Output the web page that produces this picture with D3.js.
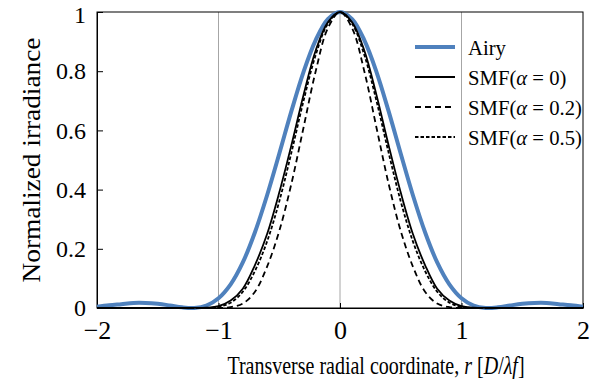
<!DOCTYPE html>
<html>
<head>
<meta charset="utf-8">
<script src="https://cdn.jsdelivr.net/npm/d3@7"></script>
<style>
  body { margin: 0; background: #fff; }
  text { font-family: "Liberation Serif", "Times New Roman", serif; fill: #000; }
</style>
</head>
<body>
<div id="chart"></div>
<script>
chart_width = 595;
chart_height = 388;

// radial coordinate samples
r_values = [-2.0, -1.9, -1.8, -1.7, -1.6, -1.5, -1.4, -1.3, -1.2, -1.1, -1.0, -0.9, -0.8, -0.7, -0.6, -0.5, -0.4, -0.3, -0.2, -0.1,
	0.0, 0.1, 0.2, 0.3, 0.4, 0.5, 0.6, 0.7, 0.8, 0.9, 1.0, 1.1, 1.2, 1.3, 1.4, 1.5, 1.6, 1.7, 1.8, 1.9, 2.0];

airy = [0.004, 0.009, 0.013, 0.017, 0.017, 0.014, 0.0085, 0.0023, 0.0002, 0.008, 0.033, 0.080, 0.154, 0.256, 0.381, 0.521, 0.665, 0.798, 0.905, 0.976,
	1.0, 0.976, 0.905, 0.798, 0.665, 0.521, 0.381, 0.256, 0.154, 0.080, 0.033, 0.008, 0.0002, 0.0023, 0.0085, 0.014, 0.017, 0.017, 0.013, 0.009, 0.004];

smf_a0 = [0, 0, 0, 0, 0, 0, 0, 0, 0.0002, 0.001, 0.006, 0.025, 0.065, 0.145, 0.25, 0.39, 0.55, 0.72, 0.87, 0.965,
	1.0, 0.965, 0.87, 0.72, 0.55, 0.39, 0.25, 0.145, 0.065, 0.025, 0.006, 0.001, 0.0002, 0, 0, 0, 0, 0, 0, 0, 0];

smf_a02 = [0, 0, 0, 0, 0, 0, 0, 0, 0, 0, 0, 0.003, 0.015, 0.055, 0.14, 0.26, 0.42, 0.61, 0.80, 0.945,
	1.0, 0.945, 0.80, 0.61, 0.42, 0.26, 0.14, 0.055, 0.015, 0.003, 0, 0, 0, 0, 0, 0, 0, 0, 0, 0, 0];

smf_a05 = [0, 0, 0, 0, 0, 0, 0, 0, 0, 0, 0.004, 0.018, 0.055, 0.125, 0.225, 0.36, 0.525, 0.70, 0.855, 0.96,
	1.0, 0.96, 0.855, 0.70, 0.525, 0.36, 0.225, 0.125, 0.055, 0.018, 0.004, 0, 0, 0, 0, 0, 0, 0, 0, 0, 0];

x_ticks = [-2, -1, 0, 1, 2];
y_ticks = [0, 0.2, 0.4, 0.6, 0.8, 1];
grid_x = [-1, 0, 1];

series = [
	{ name: 'Airy', values: airy, color: '#4f81bd', width: 4, dash: null },
	{ name: 'SMF(α = 0)', values: smf_a0, color: '#000', width: 1.8, dash: null },
	{ name: 'SMF(α = 0.2)', values: smf_a02, color: '#000', width: 1.8, dash: '6,4' },
	{ name: 'SMF(α = 0.5)', values: smf_a05, color: '#000', width: 1.8, dash: '3.5,2' }
];

margin = { left: 97, right: 12, top: 12, bottom: 80 };
plot_w = chart_width - margin.left - margin.right;
plot_h = chart_height - margin.top - margin.bottom;

x_scale = d3.scaleLinear().domain([-2, 2]).range([0, plot_w]);
y_scale = d3.scaleLinear().domain([0, 1]).range([plot_h, 0]);

svg = d3.select('#chart')
	.append('svg')
	.attr('width', chart_width)
	.attr('height', chart_height);

g = svg.append('g')
	.attr('transform', 'translate(' + margin.left + ',' + margin.top + ')');

// vertical gridlines
g.selectAll('line.grid')
	.data(grid_x)
	.enter()
	.append('line')
	.attr('class', 'grid')
	.attr('x1', (d) => x_scale(d))
	.attr('x2', (d) => x_scale(d))
	.attr('y1', 0)
	.attr('y2', plot_h)
	.attr('stroke', '#a6a6a6')
	.attr('stroke-width', 1);

// frame
g.append('rect')
	.attr('x', 0)
	.attr('y', 0)
	.attr('width', plot_w)
	.attr('height', plot_h)
	.attr('fill', 'none')
	.attr('stroke', '#000')
	.attr('stroke-width', 1);

// axes with inward ticks
x_axis = d3.axisBottom(x_scale)
	.tickValues(x_ticks)
	.tickSizeInner(-5)
	.tickSizeOuter(0)
	.tickPadding(13)
	.tickFormat((d) => d < 0 ? '\u2212' + Math.abs(d) : d);

g.append('g')
	.attr('transform', 'translate(0,' + plot_h + ')')
	.call(x_axis)
	.call((a) => a.select('.domain').attr('stroke', '#000'))
	.call((a) => a.selectAll('text').style('font-size', '26px').style('font-family', '"Liberation Serif", serif'));

y_axis = d3.axisLeft(y_scale)
	.tickValues(y_ticks)
	.tickSizeInner(-6)
	.tickSizeOuter(0)
	.tickPadding(11)
	.tickFormat((d) => d);

g.append('g')
	.call(y_axis)
	.call((a) => a.select('.domain').attr('stroke', '#000'))
	.call((a) => a.selectAll('text').style('font-size', '24px').style('font-family', '"Liberation Serif", serif'))
	.call((a) => a.selectAll('.tick text').filter((d) => d === 1).attr('dy', '0.42em'));

// curves
line_gen = d3.line()
	.x((d, i) => x_scale(r_values[i]))
	.y((d) => y_scale(d))
	.curve(d3.curveCatmullRom);

g.selectAll('path.curve')
	.data(series)
	.enter()
	.append('path')
	.attr('class', 'curve')
	.attr('d', (d) => line_gen(d.values))
	.attr('fill', 'none')
	.attr('stroke', (d) => d.color)
	.attr('stroke-width', (d) => d.width)
	.attr('stroke-dasharray', (d) => d.dash);

// legend
legend = svg.append('g').attr('transform', 'translate(415,47)');
legend_rows = legend.selectAll('g')
	.data(series)
	.enter()
	.append('g')
	.attr('transform', (d, i) => 'translate(0,' + (i * 30) + ')');

legend_rows.append('line')
	.attr('x1', 0)
	.attr('x2', 40)
	.attr('y1', 0)
	.attr('y2', 0)
	.attr('stroke', (d) => d.color)
	.attr('stroke-width', (d) => d.width)
	.attr('stroke-dasharray', (d) => d.dash);

legend_text = legend_rows.append('text')
	.attr('transform', 'translate(53,8) scale(0.94,1)')
	.style('font-size', '22px');

legend_text.each(function(d) {
	t = d3.select(this);
	if (d.name.indexOf('α') < 0) {
		t.text(d.name);
	} else {
		parts = d.name.split('α');
		t.append('tspan').text(parts[0]);
		t.append('tspan').attr('font-style', 'italic').text('α');
		t.append('tspan').text(parts[1]);
	}
});

// axis titles
x_title = svg.append('g')
	.attr('transform', 'translate(376,374) scale(0.8,1)')
	.append('text')
	.attr('text-anchor', 'middle')
	.style('font-size', '25px');
x_title.append('tspan').text('Transverse radial coordinate, ');
x_title.append('tspan').attr('font-style', 'italic').text('r');
x_title.append('tspan').text(' [');
x_title.append('tspan').attr('font-style', 'italic').text('D');
x_title.append('tspan').text('/');
x_title.append('tspan').attr('font-style', 'italic').text('λf');
x_title.append('tspan').text(']');

svg.append('text')
	.attr('transform', 'translate(40,' + (margin.top + plot_h / 2) + ') rotate(-90)')
	.attr('text-anchor', 'middle')
	.style('font-size', '26px')
	.attr('textLength', 245)
	.attr('lengthAdjust', 'spacingAndGlyphs')
	.text('Normalized irradiance');
</script>
</body>
</html>
